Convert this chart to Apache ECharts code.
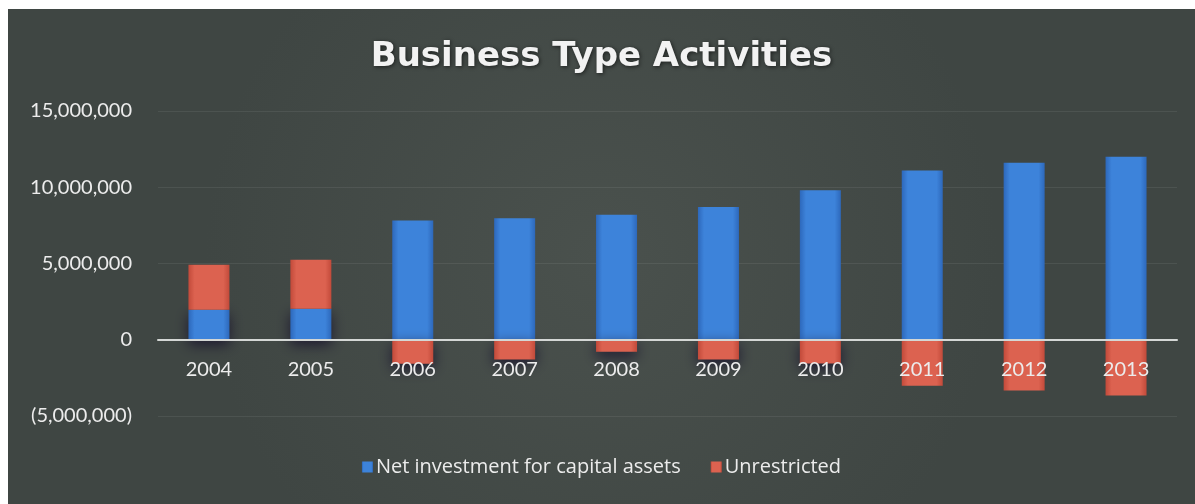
<!DOCTYPE html>
<html>
<head>
<meta charset="utf-8">
<title>Business Type Activities</title>
<script src="https://cdn.jsdelivr.net/npm/echarts@6/dist/echarts.min.js"></script>
<style>
  html, body { margin: 0; padding: 0; background: #ffffff; }
  body { width: 1195px; height: 504px; position: relative; overflow: hidden; }
  #chart { position: absolute; left: 8px; top: 9px; width: 1187px; height: 495px; }
</style>
</head>
<body>
<div id="chart"></div>
<script>
// Fiscal years shown along the category axis
const years = ['2004', '2005', '2006', '2007', '2008', '2009', '2010', '2011', '2012', '2013'];

// Net position components (dollars)
const netInvestment = [1970000, 2030000, 7820000, 7970000, 8190000, 8700000, 9800000, 11100000, 11600000, 12000000];
const unrestricted = [2940000, 3210000, -1570000, -1290000, -790000, -1290000, -1550000, -3020000, -3330000, -3650000];

// Value axis range and step
const axisMin = -5000000;
const axisMax = 15000000;
const axisStep = 5000000;

const FONT = 'Lato, "Open Sans", sans-serif';
const WIDE_FONT = '"Open Sans", Lato, sans-serif';
const TITLE_FONT = '"DejaVu Sans", "Open Sans", sans-serif';
const TEXT = '#ececec';

function fmtAmount(v) {
  const s = Math.abs(v).toLocaleString('en-US');
  return v < 0 ? '(' + s + ')' : s;
}

function barGradient(edge, mid) {
  return new echarts.graphic.LinearGradient(0, 0, 1, 0, [
    { offset: 0, color: edge },
    { offset: 0.15, color: mid },
    { offset: 0.85, color: mid },
    { offset: 1, color: edge }
  ]);
}

const chart = echarts.init(document.getElementById('chart'), null, { renderer: 'canvas' });

chart.setOption({
  backgroundColor: new echarts.graphic.RadialGradient(0.5, 0.5, 0.8, [
    { offset: 0, color: '#4a514d' },
    { offset: 1, color: '#3f4643' }
  ]),
  title: {
    text: 'Business Type Activities',
    left: 'center',
    top: 26,
    textStyle: {
      fontFamily: TITLE_FONT,
      fontSize: 34,
      fontWeight: 'bold',
      color: '#f2f2f2',
      textShadowColor: 'rgba(0,0,0,0.6)',
      textShadowBlur: 4,
      textShadowOffsetX: 1,
      textShadowOffsetY: 1
    }
  },
  legend: {
    bottom: 22,
    left: 'center',
    itemWidth: 11,
    itemHeight: 11,
    itemGap: 30,
    icon: 'rect',
    textStyle: { fontFamily: WIDE_FONT, fontSize: 20, color: TEXT, padding: [0, 0, 0, -2] },
    data: ['Net investment for capital assets', 'Unrestricted']
  },
  grid: { left: 150, right: 18, top: 102, bottom: 88 },
  xAxis: {
    type: 'category',
    data: years,
    z: 10,
    axisLine: { onZero: true, lineStyle: { color: '#d4d7d5', width: 2 } },
    axisTick: { show: false },
    // year labels sit just under the zero line
    axisLabel: { fontFamily: FONT, fontSize: 20, color: TEXT, margin: -56 },
    splitLine: { show: false }
  },
  yAxis: {
    type: 'value',
    min: axisMin,
    max: axisMax,
    interval: axisStep,
    axisLine: { show: false },
    axisTick: { show: false },
    axisLabel: {
      fontFamily: FONT,
      fontSize: 20,
      color: TEXT,
      margin: 26,
      formatter: fmtAmount
    },
    splitLine: { lineStyle: { color: 'rgba(255,255,255,0.07)', width: 1 } }
  },
  series: [
    {
      name: 'Net investment for capital assets',
      type: 'bar',
      stack: 'net',
      data: netInvestment,
      barWidth: 41,
      itemStyle: {
        color: barGradient('#2d68bb', '#3d83da'),
        shadowColor: 'rgba(25,20,45,0.9)',
        shadowBlur: 14,
        shadowOffsetY: 5
      }
    },
    {
      name: 'Unrestricted',
      type: 'bar',
      stack: 'net',
      data: unrestricted,
      barWidth: 41,
      itemStyle: {
        color: barGradient('#c24a3a', '#dc6250'),
        shadowColor: 'rgba(25,20,45,0.9)',
        shadowBlur: 14,
        shadowOffsetY: 5
      }
    }
  ]
});
</script>
</body>
</html>
